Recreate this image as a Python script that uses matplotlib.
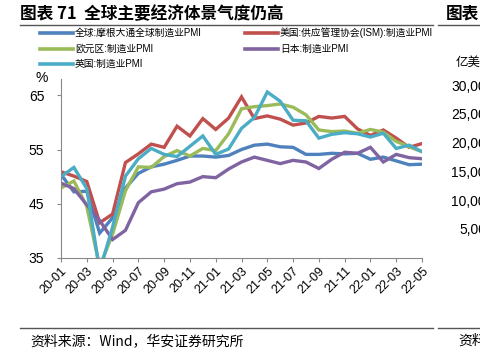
import matplotlib
matplotlib.use('Agg')
import matplotlib.pyplot as plt
from matplotlib.lines import Line2D

plt.rcParams['font.family'] = ['Liberation Sans', 'Noto Sans CJK SC']

# 月份 2020-01 ~ 2022-05
months = ['20-01', '20-02', '20-03', '20-04', '20-05', '20-06', '20-07', '20-08', '20-09', '20-10',
          '20-11', '20-12', '21-01', '21-02', '21-03', '21-04', '21-05', '21-06', '21-07', '21-08',
          '21-09', '21-10', '21-11', '21-12', '22-01', '22-02', '22-03', '22-04', '22-05']

global_pmi = [50.4, 47.2, 47.3, 39.6, 42.4, 47.9, 50.6, 51.8, 52.3, 53.0, 53.8, 53.8, 53.6, 53.9, 55.0,
              55.8, 56.0, 55.5, 55.4, 54.1, 54.1, 54.3, 54.2, 54.3, 53.2, 53.6, 52.9, 52.2, 52.3]
us_ism = [50.9, 50.1, 49.1, 41.5, 43.1, 52.6, 54.2, 56.0, 55.4, 59.3, 57.5, 60.7, 58.7, 60.8, 64.7,
          60.7, 61.2, 60.6, 59.5, 59.9, 61.1, 60.8, 61.1, 58.8, 57.6, 58.6, 57.1, 55.4, 56.1]
euro_pmi = [47.9, 49.2, 44.5, 33.4, 39.4, 47.4, 51.8, 51.7, 53.7, 54.8, 53.8, 55.2, 54.8, 57.9, 62.5,
            62.9, 63.1, 63.4, 62.8, 61.4, 58.6, 58.3, 58.4, 58.0, 58.7, 58.2, 56.5, 55.5, 54.6]
japan_pmi = [48.8, 47.8, 44.8, 41.9, 38.4, 40.1, 45.2, 47.2, 47.7, 48.7, 49.0, 50.0, 49.8, 51.4, 52.7,
             53.6, 53.0, 52.4, 53.0, 52.7, 51.5, 53.2, 54.5, 54.3, 55.4, 52.7, 54.1, 53.5, 53.3]
uk_pmi = [50.0, 51.7, 47.8, 32.6, 40.7, 50.1, 53.3, 55.2, 54.1, 53.7, 55.6, 57.5, 54.1, 55.1, 58.9,
          60.9, 65.6, 63.9, 60.4, 60.3, 57.1, 57.8, 58.1, 57.9, 57.3, 58.0, 55.2, 55.8, 54.6]

labels = ['全球:摩根大通全球制造业PMI', '美国:供应管理协会(ISM):制造业PMI',
          '欧元区:制造业PMI', '日本:制造业PMI', '英国:制造业PMI']
colors = ['#4F81BD', '#C0504D', '#9BBB59', '#8064A2', '#4BACC6']
series = [global_pmi, us_ism, euro_pmi, japan_pmi, uk_pmi]

fig = plt.figure(figsize=(4.8, 3.58), dpi=100)
ax = fig.add_axes([61 / 480, 1 - 258 / 358, (422 - 61) / 480, (258 - 79) / 358])

x = list(range(len(months)))
for ys, c, lab in zip(series, colors, labels):
    ax.plot(x, ys, color=c, lw=2.4, label=lab, solid_joinstyle='miter')

ax.set_xlim(0, len(months) - 1)
ax.set_ylim(35, 68)
ax.set_yticks([35, 45, 55, 65])
ax.set_xticks(x[::2])
ax.set_xticklabels(months[::2], rotation=45, ha='right', rotation_mode='anchor', fontsize=9)
ax.tick_params(axis='y', labelsize=10, length=3, pad=9, color='#888888')
ax.tick_params(axis='x', length=3, pad=2, color='#888888')
for s in ['top', 'right']:
    ax.spines[s].set_visible(False)
for s in ['left', 'bottom']:
    ax.spines[s].set_color('#888888')

# 图例 (两列)
legend_pos = [(40, 33), (245, 33), (40, 49), (245, 49), (40, 64)]
for (px, py), c, lab in zip(legend_pos, colors, labels):
    fig.add_artist(Line2D([px / 480, (px + 33) / 480], [1 - py / 358, 1 - py / 358],
                          color=c, lw=2.6, transform=fig.transFigure))
    fig.text((px + 35) / 480, 1 - py / 358, lab, fontsize=7, va='center')

fig.text(36 / 480, 1 - 78 / 358, '%', fontsize=10, va='center', ha='left')

# 标题与来源
fig.text(20 / 480, 1 - 14 / 358, '图表 71  全球主要经济体景气度仍高', fontsize=12,
         fontweight='bold', va='center', family=['Noto Sans CJK SC', 'DejaVu Sans'])
fig.text(446 / 480, 1 - 14 / 358, '图表', fontsize=12, fontweight='bold', va='center',
         family=['Noto Sans CJK SC', 'DejaVu Sans'])
for x0, x1, yy in [(20, 433, 25), (438, 480, 25), (20, 433, 328), (438, 480, 328)]:
    fig.add_artist(Line2D([x0 / 480, x1 / 480], [1 - yy / 358] * 2, color='#555555', lw=1,
                          transform=fig.transFigure))
fig.text(30 / 480, 1 - 341 / 358, '资料来源：Wind，华安证券研究所', fontsize=10, va='center',
         family=['Noto Sans CJK SC', 'DejaVu Sans'])
fig.text(458 / 480, 1 - 341 / 358, '资料', fontsize=10, va='center',
         family=['Noto Sans CJK SC', 'DejaVu Sans'])

# 右侧相邻图表的残留部分
fig.text(456 / 480, 1 - 62 / 358, '亿美', fontsize=9, va='center',
         family=['Noto Sans CJK SC', 'DejaVu Sans'])
right_ticks = ['30,00', '25,00', '20,00', '15,00', '10,00', '5,00']
right_y = [87, 115, 144, 173, 202, 230]
for t, yy in zip(right_ticks, right_y):
    fig.text(486 / 480, 1 - yy / 358, t, fontsize=10, va='center', ha='right')

fig.savefig('out.png', dpi=100)
